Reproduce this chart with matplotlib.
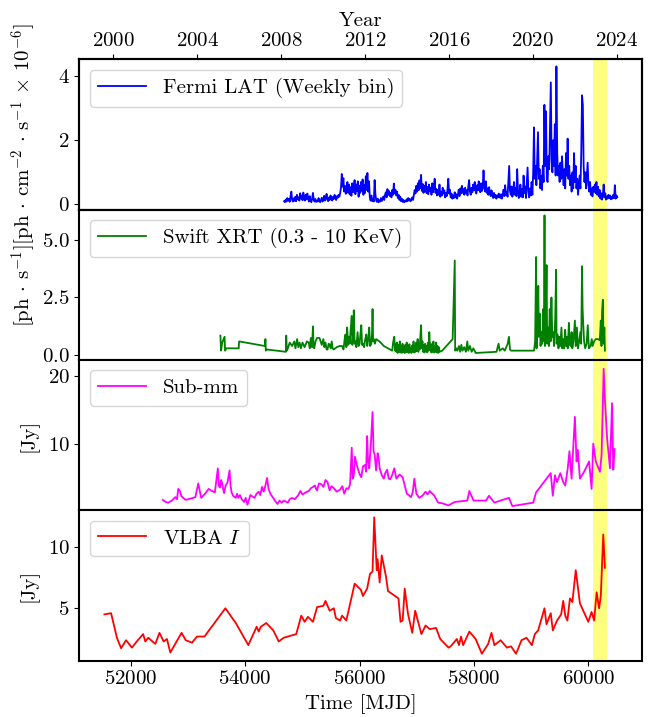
import numpy as np
import matplotlib
matplotlib.use("Agg")
import matplotlib.pyplot as plt

plt.rcParams['font.family'] = 'serif'
plt.rcParams['font.serif'] = ['cmr10']
plt.rcParams['mathtext.fontset'] = 'cm'
plt.rcParams['axes.formatter.use_mathtext'] = True
plt.rcParams['font.size'] = 15
plt.rcParams['axes.linewidth'] = 1.5

# Fermi LAT, binned light curve (bin times every 14 d)
fermi_mjd = np.arange(54682, 60507, 14)
fermi_flux = [
    0.10, 0.07, 0.15, 0.09, 0.20, 0.12, 0.17, 0.08, 0.26, 0.40,
    0.14, 0.09, 0.19, 0.11, 0.24, 0.10, 0.30, 0.16, 0.22, 0.12,
    0.35, 0.18, 0.28, 0.13, 0.37, 0.20, 0.12, 0.30, 0.16, 0.34,
    0.19, 0.09, 0.26, 0.12, 0.07, 0.18, 0.36, 0.14, 0.09, 0.17,
    0.08, 0.12, 0.09, 0.20, 0.11, 0.07, 0.14, 0.21, 0.09, 0.15,
    0.27, 0.12, 0.19, 0.33, 0.16, 0.10, 0.22, 0.14, 0.28, 0.18,
    0.12, 0.24, 0.17, 0.30, 0.20, 0.14, 0.26, 0.21, 0.30, 0.24,
    0.36, 0.52, 0.95, 0.55, 0.82, 0.40, 0.58, 0.33, 0.48, 0.70,
    0.36, 0.62, 0.31, 0.54, 0.27, 0.66, 0.38, 0.52, 0.76, 0.32,
    0.62, 0.42, 0.72, 0.24, 0.58, 0.36, 0.70, 0.42, 0.78, 0.30,
    0.60, 0.36, 0.88, 0.45, 0.98, 0.40, 0.72, 0.22, 0.12, 0.28,
    0.10, 0.18, 0.09, 0.76, 0.32, 0.12, 0.08, 0.18, 0.07, 0.13,
    0.09, 0.20, 0.11, 0.17, 0.25, 0.14, 0.30, 0.38, 0.22, 0.48,
    0.30, 0.42, 0.26, 0.36, 0.22, 0.45, 0.30, 0.65, 0.34, 0.46,
    0.28, 0.40, 0.20, 0.30, 0.14, 0.24, 0.10, 0.18, 0.08, 0.14,
    0.07, 0.12, 0.09, 0.16, 0.10, 0.20, 0.12, 0.17, 0.10, 0.15,
    0.22, 0.14, 0.30, 0.45, 0.34, 0.58, 0.40, 0.66, 0.44, 0.75,
    0.50, 0.92, 0.42, 0.64, 0.36, 0.58, 0.40, 0.70, 0.35, 0.55,
    0.32, 0.62, 0.42, 0.52, 0.30, 0.66, 0.38, 0.55, 0.80, 0.36,
    0.48, 0.28, 0.46, 0.30, 0.62, 0.24, 0.40, 0.28, 0.52, 0.34,
    0.44, 0.22, 0.36, 0.26, 0.48, 0.80, 0.34, 0.46, 0.22, 0.34,
    0.18, 0.28, 0.20, 0.38, 0.22, 0.32, 0.18, 0.30, 0.46, 0.26,
    0.50, 0.34, 0.58, 0.36, 0.48, 0.30, 0.52, 0.36, 0.44, 0.28,
    0.56, 0.76, 0.40, 0.30, 0.52, 0.38, 0.62, 0.44, 0.70, 0.42,
    0.34, 0.60, 0.44, 0.72, 0.46, 0.38, 0.66, 0.42, 0.56, 1.06,
    0.50, 0.40, 0.72, 0.36, 0.50, 0.30, 0.54, 0.34, 0.26, 0.44,
    0.28, 0.20, 0.36, 0.22, 0.30, 0.18, 0.28, 0.22, 0.34, 0.24,
    0.20, 0.32, 0.18, 0.30, 0.46, 0.26, 0.60, 0.30, 0.40, 0.24,
    0.70, 1.20, 0.42, 0.30, 0.56, 0.24, 0.38, 0.70, 0.30, 0.52,
    0.26, 1.10, 0.44, 0.20, 0.36, 0.62, 0.24, 0.48, 0.22, 0.90,
    0.36, 0.56, 0.20, 0.70, 1.15, 0.40, 0.22, 0.50, 0.28, 0.70,
    0.30, 1.00, 2.40, 0.80, 1.20, 0.60, 1.40, 2.25, 0.80, 1.10,
    0.50, 0.90, 0.45, 1.20, 0.70, 3.10, 1.20, 2.90, 0.80, 0.70,
    1.50, 1.10, 2.40, 3.80, 1.40, 1.00, 2.00, 1.20, 2.50, 0.90,
    4.30, 1.60, 0.90, 1.20, 0.70, 1.30, 0.80, 1.50, 1.00, 0.60,
    1.10, 0.50, 1.60, 0.90, 2.05, 0.80, 1.20, 0.60, 0.90, 0.40,
    1.00, 0.50, 1.60, 0.70, 1.20, 0.50, 0.80, 0.30, 0.60, 0.90,
    0.50, 1.60, 3.40, 3.10, 1.20, 0.70, 1.00, 0.50, 0.90, 1.30,
    0.60, 0.40, 0.70, 0.30, 0.50, 0.25, 0.55, 0.40, 0.62, 0.35,
    0.70, 0.30, 0.55, 0.25, 0.45, 0.18, 0.35, 0.15, 0.30, 0.62,
    0.22, 0.35, 0.15, 0.25, 0.18, 0.30, 0.20, 0.28, 0.16, 0.24,
    0.18, 0.30, 0.20, 0.60, 0.18, 0.28, 0.22,
]

# Swift XRT count rate
swift_mjd = [
    53568, 53580, 53600, 53641, 53650, 53670, 53888, 53895, 54347, 54355,
    54362, 54384, 54712, 54719, 54730, 54748, 54780, 54821, 54860, 54880,
    54909, 54930, 54952, 54975, 55003, 55040, 55080, 55113, 55130, 55149,
    55170, 55186, 55195, 55208, 55230, 55259, 55300, 55340, 55368, 55385,
    55405, 55425, 55441, 55460, 55478, 55495, 55514, 55530, 55551, 55600,
    55650, 55696, 55720, 55740, 55755, 55770, 55784, 55800, 55815, 55828,
    55845, 55864, 55875, 55890, 55900, 55915, 55930, 55945, 55966, 55985,
    56002, 56015, 56031, 56045, 56060, 56080, 56100, 56119, 56135, 56155,
    56170, 56185, 56206, 56218, 56228, 56238, 56250, 56270, 56290, 56316,
    56350, 56425, 56571, 56590, 56608, 56620, 56632, 56644, 56656, 56668,
    56680, 56692, 56704, 56716, 56728, 56740, 56752, 56764, 56776, 56788,
    56800, 56812, 56824, 56836, 56848, 56860, 56872, 56884, 56896, 56908,
    56920, 56932, 56944, 56956, 56968, 56980, 56992, 57004, 57016, 57028,
    57040, 57052, 57064, 57076, 57088, 57100, 57112, 57124, 57136, 57148,
    57160, 57172, 57184, 57196, 57208, 57220, 57232, 57244, 57256, 57268,
    57280, 57292, 57304, 57316, 57328, 57340, 57352, 57364, 57376, 57388,
    57400, 57446, 57628, 57665, 57672, 57690, 57710, 57738, 57760, 57780,
    57800, 57830, 57860, 57884, 57900, 57930, 57960, 57990, 58030, 58394,
    58431, 58450, 58504, 58540, 58590, 58613, 58630, 58649, 59050, 59070,
    59087, 59095, 59110, 59125, 59135, 59150, 59165, 59180, 59195, 59210,
    59225, 59234, 59242, 59255, 59270, 59280, 59295, 59310, 59325, 59340,
    59355, 59370, 59385, 59400, 59420, 59437, 59445, 59460, 59478, 59492,
    59510, 59530, 59545, 59560, 59578, 59595, 59610, 59625, 59640, 59660,
    59675, 59690, 59708, 59720, 59740, 59765, 59780, 59800, 59817, 59840,
    59860, 59875, 59890, 59900, 59912, 59926, 59945, 59970, 59990, 60010,
    60040, 60060, 60075, 60100, 60130, 60170, 60200, 60218, 60230, 60240,
    60254, 60262, 60270, 60280, 60290,
]
swift_rate = [
    0.85, 0.20, 0.55, 0.80, 0.20, 0.30, 0.30, 0.60, 0.40, 0.70,
    0.20, 0.25, 0.15, 0.85, 0.20, 0.30, 0.55, 0.40, 0.60, 0.30,
    0.70, 0.35, 0.55, 0.30, 0.55, 0.35, 0.60, 0.55, 0.30, 0.75,
    0.35, 1.25, 0.45, 0.30, 0.60, 0.75, 0.75, 0.45, 0.70, 0.35,
    0.55, 0.25, 0.25, 0.50, 0.45, 0.30, 0.60, 0.30, 0.25, 0.35,
    0.40, 0.40, 0.25, 0.70, 0.90, 0.35, 1.20, 0.45, 0.80, 0.50,
    1.10, 1.70, 0.45, 1.00, 1.95, 0.50, 0.60, 0.35, 1.00, 0.40,
    0.50, 0.90, 1.30, 0.45, 0.50, 0.35, 0.70, 0.90, 0.40, 0.75,
    1.20, 0.40, 0.50, 0.90, 2.00, 0.60, 0.70, 0.50, 0.70, 0.65,
    0.60, 0.40, 0.20, 0.60, 0.80, 0.20, 0.50, 0.15, 0.55, 0.10,
    0.45, 0.15, 0.60, 0.12, 0.40, 0.10, 0.50, 0.14, 0.35, 0.10,
    0.45, 0.12, 0.55, 0.15, 0.38, 0.10, 0.48, 0.12, 0.30, 0.10,
    0.42, 0.16, 0.60, 0.12, 0.40, 0.15, 0.55, 0.20, 0.70, 0.15,
    0.50, 0.25, 0.85, 1.30, 0.30, 0.60, 0.15, 0.45, 0.12, 0.50,
    0.18, 0.40, 0.12, 0.55, 0.20, 1.00, 0.25, 0.50, 0.12, 0.45,
    0.15, 0.60, 0.12, 0.40, 0.15, 0.55, 0.12, 0.40, 0.10, 0.35,
    0.15, 0.20, 0.70, 4.10, 0.20, 0.30, 0.20, 0.40, 0.15, 0.45,
    0.20, 0.35, 0.15, 0.60, 0.20, 0.40, 0.15, 0.30, 0.10, 0.15,
    0.50, 0.20, 0.30, 0.20, 0.50, 0.80, 0.25, 0.20, 0.20, 0.60,
    4.25, 0.30, 1.20, 3.00, 0.80, 1.80, 0.40, 1.00, 0.50, 2.00,
    0.60, 6.05, 0.40, 1.50, 3.90, 0.50, 1.20, 0.40, 2.00, 0.60,
    2.50, 0.80, 1.00, 0.40, 1.50, 3.70, 0.50, 0.90, 0.30, 0.80,
    0.40, 1.20, 0.30, 0.70, 0.30, 1.10, 0.40, 0.80, 0.30, 1.40,
    0.50, 0.40, 1.00, 0.30, 0.60, 1.50, 0.40, 1.20, 0.30, 0.60,
    1.00, 0.50, 3.85, 2.00, 1.30, 0.60, 0.30, 0.50, 1.30, 0.30,
    0.40, 0.70, 0.40, 0.60, 0.70, 0.70, 0.65, 1.50, 0.40, 1.90,
    2.40, 1.00, 0.50, 1.20, 0.20,
]

# Sub-mm flux density
submm_mjd = [
    52561, 52610, 52656, 52720, 52780, 52810, 52831, 52860, 52889, 52962,
    53050, 53130, 53181, 53232, 53300, 53363, 53420, 53472, 53523, 53540,
    53560, 53580, 53596, 53615, 53633, 53660, 53691, 53728, 53745, 53764,
    53790, 53837, 53860, 53880, 53910, 53940, 53983, 54010, 54041, 54092,
    54130, 54165, 54200, 54238, 54265, 54296, 54325, 54350, 54384, 54410,
    54442, 54490, 54530, 54566, 54600, 54640, 54675, 54748, 54780, 54821,
    54870, 54931, 54967, 55003, 55060, 55113, 55150, 55222, 55240, 55259,
    55290, 55332, 55370, 55405, 55440, 55478, 55510, 55551, 55600, 55660,
    55700, 55733, 55770, 55806, 55835, 55864, 55880, 55900, 55920, 55951,
    55988, 56010, 56031, 56060, 56097, 56115, 56133, 56150, 56170, 56200,
    56228, 56245, 56265, 56290, 56316, 56335, 56352, 56390, 56425, 56450,
    56484, 56510, 56535, 56570, 56608, 56644, 56700, 56754, 56790, 56827,
    56860, 56899, 56930, 56958, 56994, 57045, 57100, 57155, 57190, 57228,
    57260, 57301, 57374, 57450, 57556, 57665, 57884, 57920, 57994, 58212,
    58263, 58358, 58500, 58613, 58671, 59036, 59087, 59269, 59343, 59379,
    59416, 59452, 59510, 59561, 59597, 59640, 59670, 59707, 59765, 59794,
    59816, 59853, 59926, 60013, 60057, 60086, 60130, 60203, 60232, 60268,
    60290, 60327, 60378, 60414, 60436, 60458,
]
submm_flux = [
    1.9, 1.6, 1.5, 1.8, 2.3, 2.0, 3.5, 3.2, 2.4, 1.9,
    2.1, 2.3, 4.3, 2.2, 2.8, 3.5, 3.2, 3.0, 6.5, 4.0,
    3.7, 4.8, 4.4, 3.5, 2.9, 4.0, 4.4, 6.2, 4.0, 3.0,
    2.5, 2.2, 2.8, 2.2, 2.6, 2.0, 1.6, 2.2, 1.2, 2.6,
    2.4, 2.2, 2.8, 3.1, 2.6, 3.8, 3.1, 3.8, 5.1, 3.5,
    2.8, 2.2, 1.7, 1.3, 1.8, 1.5, 1.8, 1.5, 2.0, 2.2,
    2.0, 2.6, 3.2, 2.7, 3.0, 3.2, 3.6, 4.0, 3.5, 3.3,
    4.3, 4.2, 3.8, 4.8, 4.5, 3.3, 3.9, 3.6, 3.1, 3.4,
    3.9, 2.8, 3.6, 3.5, 4.2, 9.5, 5.0, 5.5, 8.2, 7.0,
    6.0, 5.5, 5.2, 6.8, 7.0, 6.0, 11.2, 7.5, 6.5, 10.3,
    14.7, 9.0, 8.5, 6.2, 8.7, 8.0, 6.5, 5.5, 5.0, 5.8,
    6.3, 5.0, 4.9, 5.5, 6.5, 5.0, 5.6, 5.2, 4.0, 2.8,
    2.6, 2.3, 3.0, 5.0, 2.8, 2.2, 2.5, 3.1, 2.7, 3.2,
    2.9, 2.6, 1.5, 1.4, 1.1, 1.6, 1.8, 3.2, 1.8, 1.8,
    2.5, 1.5, 1.9, 2.2, 1.0, 1.5, 3.0, 5.0, 5.8, 2.5,
    5.5, 4.5, 5.8, 4.5, 4.0, 6.5, 9.0, 5.0, 14.0, 7.5,
    9.2, 5.0, 6.0, 7.5, 3.5, 10.1, 7.5, 6.0, 8.5, 21.0,
    16.5, 11.0, 6.5, 16.0, 6.3, 9.3,
]

# VLBA total intensity
vlba_mjd = [
    51540, 51657, 51759, 51832, 51919, 52021, 52124, 52218, 52255, 52306,
    52430, 52503, 52576, 52634, 52692, 52889, 52962, 53072, 53159, 53290,
    53655, 53837, 54056, 54202, 54238, 54275, 54369, 54493, 54588, 54675,
    54821, 54894, 54982, 55040, 55098, 55186, 55259, 55368, 55405, 55478,
    55551, 55587, 55660, 55696, 55769, 55915, 56024, 56060, 56133, 56184,
    56228, 56257, 56301, 56316, 56352, 56389, 56462, 56498, 56681, 56717,
    56754, 56790, 56849, 56922, 56973, 57082, 57155, 57228, 57338, 57411,
    57556, 57593, 57702, 57738, 57775, 57811, 57920, 58030, 58139, 58249,
    58307, 58358, 58467, 58576, 58649, 58737, 58832, 58919, 59014, 59065,
    59123, 59197, 59233, 59269, 59343, 59379, 59452, 59525, 59561, 59597,
    59634, 59678, 59721, 59780, 59853, 59999, 60057, 60101, 60145, 60188,
    60218, 60261, 60290,
]
vlba_flux = [
    4.5, 4.6, 2.6, 1.75, 2.4, 1.8, 2.4, 2.9, 2.3, 2.6,
    2.1, 3.0, 2.3, 2.5, 1.4, 3.0, 2.4, 2.2, 2.7, 2.7,
    5.0, 3.8, 2.0, 3.5, 3.1, 3.5, 3.8, 3.2, 2.3, 2.6,
    2.8, 2.9, 4.4, 3.9, 4.3, 3.9, 5.1, 5.2, 5.6, 4.8,
    5.0, 4.2, 4.0, 4.4, 4.0, 7.0, 6.5, 6.0, 6.6, 7.8,
    8.0, 12.4, 8.1, 9.0, 7.1, 9.3, 7.6, 6.4, 5.8, 3.9,
    4.0, 6.6, 4.5, 3.0, 4.8, 2.9, 3.6, 3.3, 3.4, 2.5,
    1.8, 1.9, 2.5, 2.0, 2.7, 2.0, 3.1, 2.5, 1.3, 2.1,
    3.0, 2.0, 2.4, 1.8, 1.9, 1.3, 2.4, 2.6, 2.0, 2.9,
    3.2, 4.4, 5.0, 3.7, 4.6, 3.2, 4.0, 4.5, 5.6, 4.4,
    4.0, 5.8, 5.5, 8.1, 5.4, 3.9, 4.7, 4.0, 6.3, 5.0,
    6.0, 11.0, 8.3,
]

flare = (60090, 60320)
year_ticks = [2000, 2004, 2008, 2012, 2016, 2020, 2024]

fig = plt.figure(figsize=(6.54, 7.17), dpi=100)
gs = fig.add_gridspec(4, 1, left=0.1213, right=0.9812, top=0.9173,
                      bottom=0.0788, hspace=0)
axes = [fig.add_subplot(gs[0])]
for i in range(1, 4):
    axes.append(fig.add_subplot(gs[i], sharex=axes[0]))

series = [
    (fermi_mjd, fermi_flux, 'blue', 'Fermi LAT (Weekly bin)'),
    (swift_mjd, swift_rate, 'green', 'Swift XRT (0.3 - 10 KeV)'),
    (submm_mjd, submm_flux, 'magenta', 'Sub-mm'),
    (vlba_mjd, vlba_flux, 'red', r'VLBA $I$'),
]
ylims = [(-0.16, 4.52), (-0.2, 6.3), (0.4, 22.3), (0.75, 12.98)]

for ax, (x, y, c, lab), lim in zip(axes, series, ylims):
    ax.plot(x, y, color=c, lw=1.3, label=lab)
    ax.axvspan(*flare, color='yellow', alpha=0.5, lw=0)
    ax.set_ylim(*lim)
    ax.legend(loc='upper left', handlelength=2.3)

# one long label covering the gamma-ray and X-ray panels
axes[0].set_ylabel(r'$[\mathrm{ph}\,\cdot\,\mathrm{s}^{-1}]'
                   r'[\mathrm{ph}\,\cdot\,\mathrm{cm}^{-2}\,\cdot\,'
                   r'\mathrm{s}^{-1}\,\times\,10^{-6}]$')
axes[0].yaxis.set_label_coords(-0.073, 0.23)
for ax in axes[2:]:
    ax.set_ylabel('[Jy]')
    ax.yaxis.set_label_coords(-0.073, 0.5)

axes[0].set_yticks([0, 2, 4])
axes[1].set_yticks([0, 2.5, 5])
axes[2].set_yticks([10, 20])
axes[3].set_yticks([5, 10])
for ax in axes[:3]:
    ax.tick_params(axis='x', bottom=False, labelbottom=False)

axes[3].set_xlim(51102, 60933)
axes[3].set_xticks([52000, 54000, 56000, 58000, 60000])
axes[3].set_xlabel('Time [MJD]')

top = axes[0].twiny()
top.set_xlim(1998.38, 2025.19)
top.set_xticks(year_ticks)
top.set_xlabel('Year')

fig.savefig('out.png', dpi=100)
